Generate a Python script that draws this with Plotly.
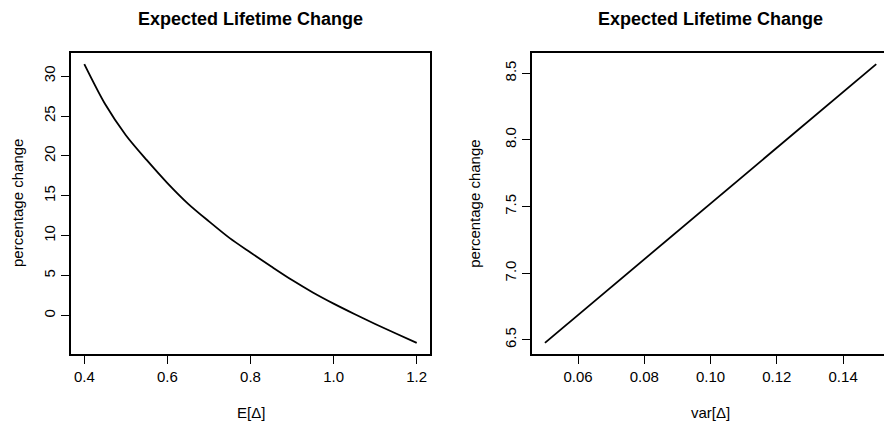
import plotly.graph_objects as go

# ---- data ----
mean_delta = [0.40, 0.45, 0.50, 0.55, 0.60, 0.65, 0.70, 0.75, 0.80,
              0.85, 0.90, 0.95, 1.00, 1.05, 1.10, 1.15, 1.20]
pct_change_mean = [31.5, 26.5, 22.6, 19.5, 16.6, 14.0, 11.8, 9.7, 7.9,
                   6.15, 4.45, 2.9, 1.5, 0.2, -1.05, -2.25, -3.42]

var_delta = [0.05, 0.06, 0.07, 0.08, 0.09, 0.10, 0.11, 0.12, 0.13, 0.14, 0.15]
pct_change_var = [6.478, 6.687, 6.896, 7.105, 7.314, 7.523, 7.732, 7.941,
                  8.150, 8.359, 8.568]

x1_ticks = [0.4, 0.6, 0.8, 1.0, 1.2]
x1_labels = ["0.4", "0.6", "0.8", "1.0", "1.2"]
y1_ticks = [0, 5, 10, 15, 20, 25, 30]
x2_ticks = [0.06, 0.08, 0.10, 0.12, 0.14]
x2_labels = ["0.06", "0.08", "0.10", "0.12", "0.14"]
y2_ticks = [6.5, 7.0, 7.5, 8.0, 8.5]
y2_labels = ["6.5", "7.0", "7.5", "8.0", "8.5"]

title_text = "Expected Lifetime Change"
ylab = "percentage change"
xlab1 = "E[Δ]"
xlab2 = "var[Δ]"

# the page body adds an 8px margin, so the figure is 8px smaller and all
# positions (in window pixels) are shifted by OFF
OFF = 8
W, H = 892 - OFF, 422 - OFF
FONT = "Liberation Sans, Arial, Helvetica, sans-serif"


def rng(vals):
    lo, hi = min(vals), max(vals)
    pad = 0.04 * (hi - lo)
    return [lo - pad, hi + pad]


def px(x):
    return (x - OFF) / W


def py(y):
    return 1 - (y - OFF) / H


fig = go.Figure()
fig.add_trace(go.Scatter(x=mean_delta, y=pct_change_mean, mode="lines",
                         line=dict(color="black", width=1.8, shape="spline",
                                   smoothing=0.8),
                         xaxis="x", yaxis="y", showlegend=False))
fig.add_trace(go.Scatter(x=var_delta, y=pct_change_var, mode="lines",
                         line=dict(color="black", width=1.8),
                         xaxis="x2", yaxis="y2", showlegend=False))

# panel pixel boxes (window coordinates)
p1 = (71, 430)
p2 = (531.7, 889.5)
top, bottom = 53, 354

common = dict(showline=True, mirror=True, linecolor="black", linewidth=1.5,
              ticks="outside", ticklen=8, tickwidth=1, tickcolor="black",
              showgrid=False, zeroline=False,
              tickfont=dict(family=FONT, size=15, color="black"))

fig.update_layout(
    width=W, height=H, autosize=False,
    margin=dict(l=0, r=0, t=0, b=0),
    paper_bgcolor="white", plot_bgcolor="white",
    xaxis=dict(domain=[px(p1[0]), px(p1[1])], range=rng(mean_delta),
               tickvals=x1_ticks, ticktext=x1_labels, anchor="y", **common),
    yaxis=dict(domain=[py(bottom), py(top)], range=rng(pct_change_mean),
               tickvals=y1_ticks, tickangle=-90, anchor="x", **common),
    xaxis2=dict(domain=[px(p2[0]), px(p2[1])], range=rng(var_delta),
                tickvals=x2_ticks, ticktext=x2_labels, anchor="y2", **common),
    yaxis2=dict(domain=[py(bottom), py(top)], range=rng(pct_change_var),
                tickvals=y2_ticks, ticktext=y2_labels, tickangle=-90,
                anchor="x2", **common),
)

ann = []
for (l, r), xl in [(p1, xlab1), (p2, xlab2)]:
    cx = px((l + r) / 2)
    ann.append(dict(text="<b>" + title_text + "</b>", x=cx, y=py(18.5),
                    xref="paper", yref="paper", xanchor="center", yanchor="middle",
                    showarrow=False, font=dict(family=FONT, size=18, color="black")))
    ann.append(dict(text=xl, x=cx, y=py(412), xref="paper", yref="paper",
                    xanchor="center", yanchor="middle", showarrow=False,
                    font=dict(family=FONT, size=15, color="black")))
for xpx in [17.5, 474.3]:
    ann.append(dict(text=ylab, x=px(xpx), y=py((top + bottom) / 2),
                    xref="paper", yref="paper", xanchor="center", yanchor="middle",
                    textangle=-90, showarrow=False,
                    font=dict(family=FONT, size=15, color="black")))
fig.update_layout(annotations=ann)

fig.write_html("out.html")
